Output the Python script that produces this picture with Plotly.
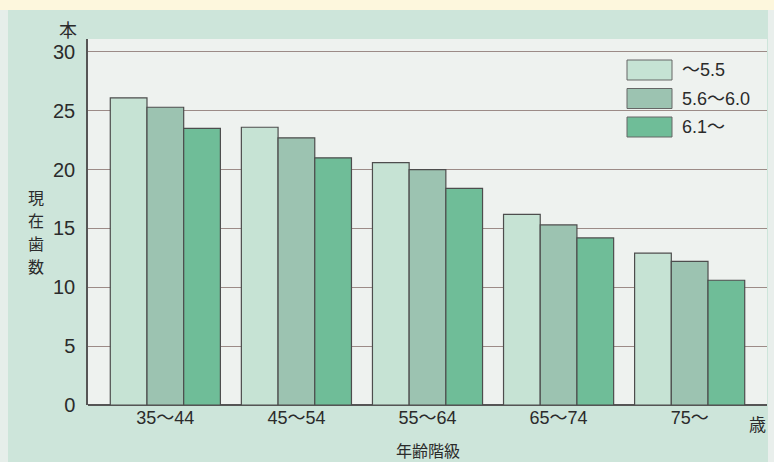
import plotly.graph_objects as go

# Age groups and mean present teeth per serum-level group
age_groups = ["35〜44", "45〜54", "55〜64", "65〜74", "75〜"]
series_names = ["〜5.5", "5.6〜6.0", "6.1〜"]
teeth_low = [26.1, 23.6, 20.6, 16.2, 12.9]
teeth_mid = [25.3, 22.7, 20.0, 15.3, 12.2]
teeth_high = [23.5, 21.0, 18.4, 14.2, 10.6]
y_ticks = [0, 5, 10, 15, 20, 25, 30]
y_title_chars = ["現", "在", "歯", "数"]

series_values = [teeth_low, teeth_mid, teeth_high]
bar_colors = ["#c6e3d4", "#9cc3b1", "#6fbd98"]
edge_color = "#4d4d4d"

FONT = "Liberation Sans, Arial, Noto Sans CJK JP"
CJK = "Noto Sans CJK JP"
TEXT = "#2b2b2b"

fig = go.Figure()
for name, vals, col in zip(series_names, series_values, bar_colors):
    fig.add_trace(go.Bar(
        x=age_groups, y=vals, name=name,
        marker=dict(color=col, line=dict(color=edge_color, width=1.2)),
        showlegend=False,
    ))

W, H = 774, 462
L, R, T, B = 88, 7, 39, 57

fig.update_layout(
    width=W, height=H,
    margin=dict(l=L, r=R, t=T, b=B),
    paper_bgcolor="#cde5da",
    plot_bgcolor="#eef2ef",
    barmode="group", bargap=0.16, bargroupgap=0,
    font=dict(family=FONT, color=TEXT, size=18),
    xaxis=dict(
        range=[-0.59, 4.59], showgrid=False, ticks="",
        showline=False, tickfont=dict(size=18, family=FONT),
        fixedrange=True,
    ),
    yaxis=dict(
        range=[0, 31.1], tickvals=y_ticks, ticks="",
        showgrid=True, gridcolor="#9c8b87", gridwidth=1,
        showline=True, linecolor="#555555", linewidth=1.5,
        zeroline=True, zerolinecolor="#555555", zerolinewidth=1.5,
        tickfont=dict(size=20, family=FONT), ticklabelstandoff=7,
        fixedrange=True,
    ),
)

pw, ph = W - L - R, H - T - B
def px_x(x):
    return (x - L) / pw
def px_y(y):
    return (H - B - y) / ph

# Pale strips framing the green panel
strip_rects = [
    (0, W, 0, 10, "#fdf7dd"),
    (0, 8, 10, H, "#e6eeea"),
    (768, W, 10, H, "#e9efec"),
]
for x0, x1, y0, y1, col in strip_rects:
    fig.add_shape(type="rect", xref="paper", yref="paper",
                  x0=px_x(x0), x1=px_x(x1), y0=px_y(y1), y1=px_y(y0),
                  fillcolor=col, line_width=0, layer="below")

# Legend drawn as swatches with labels
for i, (name, col) in enumerate(zip(series_names, bar_colors)):
    top = 60 + i * 28.5
    fig.add_shape(type="rect", xref="paper", yref="paper",
                  x0=px_x(627), x1=px_x(672), y0=px_y(top + 20), y1=px_y(top),
                  fillcolor=col, line=dict(color="#666666", width=1))
    fig.add_annotation(xref="paper", yref="paper", x=px_x(680), y=px_y(top + 10),
                       text=name, showarrow=False, xanchor="left", yanchor="middle",
                       font=dict(size=18, family=FONT, color=TEXT))

# Axis captions
fig.add_annotation(xref="paper", yref="paper", x=px_x(68), y=px_y(29),
                   text="本", showarrow=False, xanchor="center", yanchor="middle",
                   font=dict(size=18, family=CJK, color=TEXT))
for i, ch in enumerate(y_title_chars):
    fig.add_annotation(xref="paper", yref="paper", x=px_x(36), y=px_y(197 + i * 23),
                       text=ch, showarrow=False, xanchor="center", yanchor="middle",
                       borderpad=0,
                       font=dict(size=16, family=CJK, color=TEXT))
fig.add_annotation(xref="paper", yref="paper", x=px_x(757), y=px_y(423),
                   text="歳", showarrow=False, xanchor="center", yanchor="middle",
                   font=dict(size=17, family=CJK, color=TEXT))
fig.add_annotation(xref="paper", yref="paper", x=0.5, y=px_y(450),
                   text="年齢階級", showarrow=False, xanchor="center", yanchor="middle",
                   font=dict(size=16, family=CJK, color=TEXT))

fig.write_html("out.html")
